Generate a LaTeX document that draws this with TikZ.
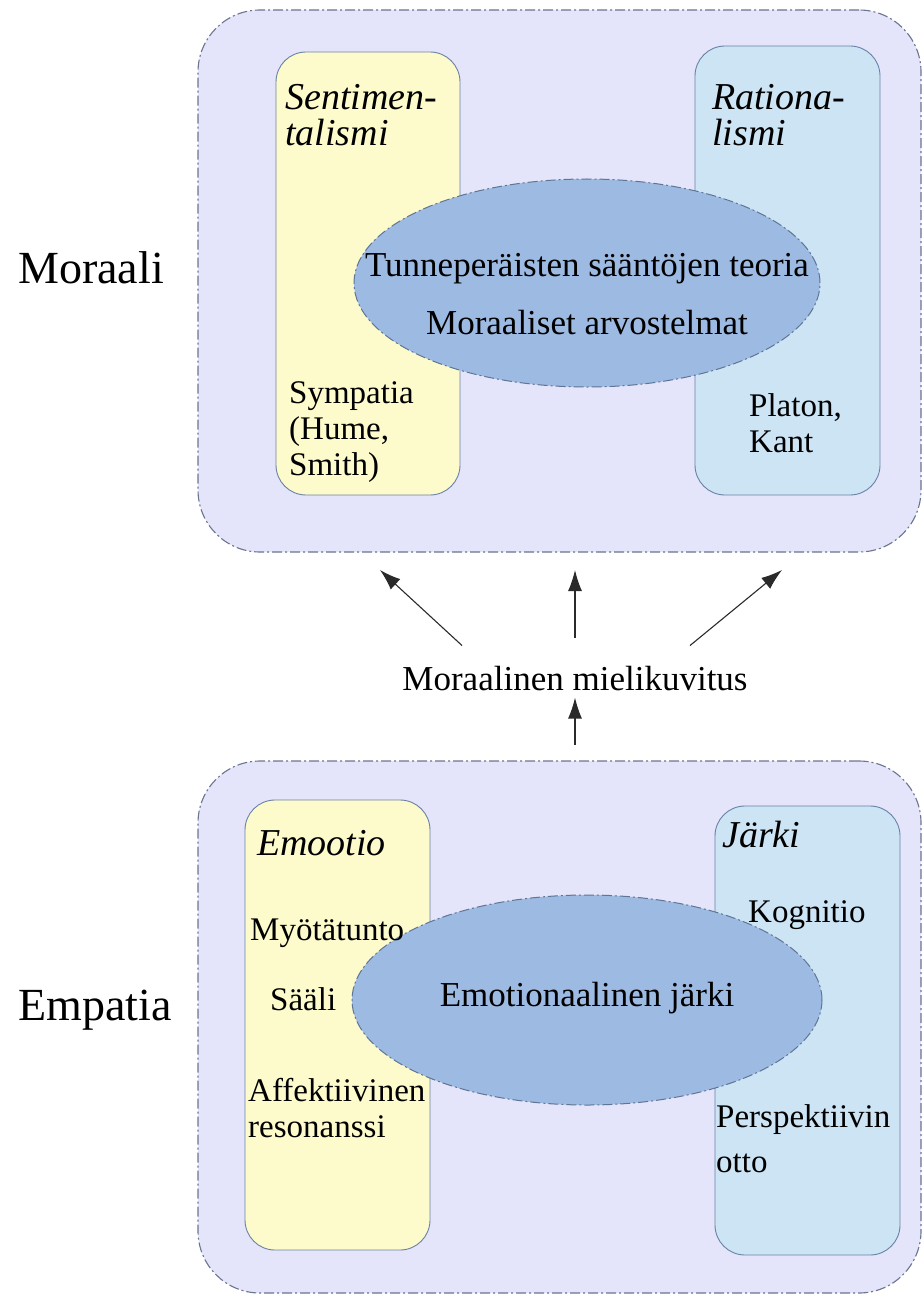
\documentclass[tikz,border=0pt]{standalone}
\usepackage{fontspec}
\setmainfont{Liberation Serif}
\usetikzlibrary{shapes.geometric,arrows.meta}

\definecolor{panelfill}{HTML}{E4E4FA}
\definecolor{panelline}{HTML}{6B7590}
\definecolor{warmfill}{HTML}{FDFBCB}
\definecolor{coolfill}{HTML}{CCE4F4}
\definecolor{boxline}{HTML}{6A82A4}
\definecolor{ovalfill}{HTML}{9DBAE2}
\definecolor{ovalline}{HTML}{5F7595}
\definecolor{arrowline}{HTML}{2A2A2A}

\tikzset{
  dashdot/.style={dash pattern=on 10pt off 3pt on 2pt off 3pt},
  panel/.style={draw=panelline, fill=panelfill, line width=1.1pt, dashdot,
    rounded corners=62pt, inner sep=0pt},
  column/.style={draw=boxline, line width=0.9pt, rounded corners=30pt, inner sep=0pt},
  warmcol/.style={column, fill=warmfill},
  coolcol/.style={column, fill=coolfill},
  oval/.style={ellipse, draw=ovalline, fill=ovalfill, line width=1pt, dashdot, inner sep=0pt},
  lbl/.style={font=\fontsize{33}{36}\selectfont, anchor=base west, inner sep=0pt, align=left},
  head/.style={font=\fontsize{38}{36}\selectfont\itshape, anchor=base west, inner sep=0pt, align=left},
  mid/.style={font=\fontsize{35}{38}\selectfont, anchor=base, inner sep=0pt},
  side/.style={font=\fontsize{46}{50}\selectfont, anchor=base west, inner sep=0pt},
  arr/.style={draw=arrowline, -{Latex[length=21pt,width=14pt]}, line width=1.1pt}
}

\begin{document}
\begin{tikzpicture}[x=1pt,y=-1pt]
\useasboundingbox (0,0) rectangle (923,1297);

% Upper panel: morality
\node[panel, minimum width=723pt, minimum height=542pt] (moraalibox) at (559.5,281) {};
\node[warmcol, minimum width=184pt, minimum height=443pt] (senti) at (368,273.5) {};
\node[coolcol, minimum width=185pt, minimum height=449pt] (ratio) at (787.5,270.5) {};
\node[oval, minimum width=466pt, minimum height=208pt] (teoria) at (587,283) {};

\node[head] (sentit) at (285,146) {Sentimen-\\talismi};
\node[head] (ratiot) at (712,146) {Rationa-\\lismi};
\node[mid] (tunne) at (587,276) {Tunneperäisten sääntöjen teoria};
\node[mid] (arvo) at (587,334) {Moraaliset arvostelmat};
\node[lbl] (sympatia) at (289,475) {Sympatia\\(Hume,\\Smith)};
\node[lbl] (platon) at (749,452) {Platon,\\Kant};
\node[side] (moraali) at (18,283) {Moraali};

% Lower panel: empathy
\node[panel, minimum width=723pt, minimum height=532pt] (empatiabox) at (559.5,1027) {};
\node[warmcol, minimum width=185pt, minimum height=450pt] (emo) at (337.5,1025) {};
\node[coolcol, minimum width=185pt, minimum height=449pt] (jarki) at (807.5,1030.5) {};
\node[oval, minimum width=470pt, minimum height=210pt] (emojarki) at (587,1000) {};

\node[head] (emot) at (257,855) {Emootio};
\node[lbl] (myota) at (250,940) {Myötätunto};
\node[lbl] (saali) at (270,1010) {Sääli};
\node[lbl] (affekt) at (248,1137) {Affektiivinen\\resonanssi};
\node[head] (jarkit) at (722,847) {Järki};
\node[lbl] (kogn) at (748,922) {Kognitio};
\node[mid] (emoj) at (587,1006) {Emotionaalinen järki};
\node[lbl] (persp) at (716,1172) {Perspektiivin\\[9pt]otto};
\node[side] (empatia) at (18,1020) {Empatia};

% Moral imagination between the panels
\node[mid] (mieli) at (575,690) {Moraalinen mielikuvitus};
\coordinate (tipL) at (380,570);
\coordinate (tipC) at (575,570);
\coordinate (tipR) at (782,570);
\coordinate (rise) at (575,745);
\draw[arr] ([shift={(-113pt,20pt)}]mieli.north) -- (tipL);
\draw[arr] ([shift={(0pt,28pt)}]mieli.north) -- (tipC);
\draw[arr] ([shift={(115pt,20pt)}]mieli.north) -- (tipR);
\draw[arr] (rise) -- ([yshift=-7pt]mieli.south);
\end{tikzpicture}
\end{document}
